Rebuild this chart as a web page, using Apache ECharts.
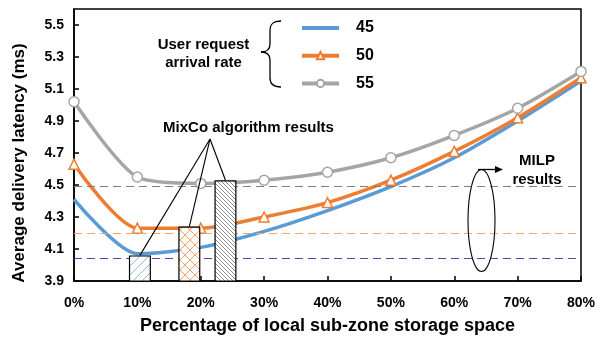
<!DOCTYPE html>
<html>
<head>
<meta charset="utf-8">
<script src="https://cdn.jsdelivr.net/npm/echarts@6/dist/echarts.min.js"></script>
<style>
  html, body { margin: 0; padding: 0; background: #fff; }
  #chart { width: 614px; height: 340px; }
</style>
</head>
<body>
<div id="chart"></div>
<script>
// Storage share on the x axis (percent) and its tick labels
const storagePct = [0, 10, 20, 30, 40, 50, 60, 70, 80];
const xTickLabels = ['0%', '10%', '20%', '30%', '40%', '50%', '60%', '70%', '80%'];
const yTickValues = [3.9, 4.1, 4.3, 4.5, 4.7, 4.9, 5.1, 5.3, 5.5];

// Average delivery latency (ms) for each user request arrival rate
const rate45 = [4.41, 4.07, 4.11, 4.21, 4.34, 4.49, 4.67, 4.90, 5.15];
const rate50 = [4.63, 4.23, 4.23, 4.30, 4.39, 4.53, 4.71, 4.92, 5.17];
const rate55 = [5.02, 4.55, 4.51, 4.53, 4.58, 4.67, 4.81, 4.98, 5.21];

// MixCo algorithm results (bar position in percent, latency)
const mixcoPos = [10.4, 18.2, 23.9];
const mixcoVal = [4.06, 4.24, 4.53];

// MILP results (dashed reference levels)
const milpVal = [4.04, 4.20, 4.49];

const FONT = "'Liberation Sans', Arial, sans-serif";
const BLUE = '#5B9BD5', ORANGE = '#ED7D31', GRAY = '#A5A5A5';

function hatch(color, size, dirs, lw) {
  const c = document.createElement('canvas');
  c.width = c.height = size;
  const g = c.getContext('2d');
  g.fillStyle = '#fff';
  g.fillRect(0, 0, size, size);
  g.strokeStyle = color;
  g.lineWidth = lw;
  dirs.forEach(d => {
    for (let k = -1; k <= 1; k++) {
      const x0 = k * size;
      g.beginPath();
      if (d === '/') { g.moveTo(x0, size); g.lineTo(x0 + size, 0); }
      else { g.moveTo(x0, 0); g.lineTo(x0 + size, size); }
      g.stroke();
    }
  });
  return { image: c, repeat: 'repeat' };
}

const barFills = [
  hatch('#8DBBE4', 9, ['/'], 1),
  hatch('#F4A470', 10, ['/', '\\'], 1),
  hatch('#8C8C8C', 4, ['\\'], 1)
];

const pair = arr => arr.map((v, i) => [storagePct[i], v]);

const chart = echarts.init(document.getElementById('chart'), null, { renderer: 'canvas' });

const option = {
  animation: false,
  backgroundColor: '#fff',
  textStyle: { fontFamily: FONT },
  grid: {
    left: 74, right: 33, top: 9, bottom: 56,
    show: true, borderColor: '#000', borderWidth: 1.5
  },
  legend: {
    orient: 'vertical',
    left: 295, top: 15,
    itemWidth: 37, itemHeight: 9, itemGap: 11.7,
    lineStyle: { width: 4 },
    data: [
      { name: '45', itemStyle: { opacity: 0 } },
      { name: '50' },
      { name: '55' }
    ],
    textStyle: {
      fontFamily: FONT, fontWeight: 'bold', fontSize: 16, lineHeight: 16,
      color: '#000', padding: [0, 0, 0, 12]
    }
  },
  xAxis: {
    type: 'value',
    min: 0, max: 80, interval: 10,
    name: 'Percentage of local sub-zone storage space',
    nameLocation: 'middle', nameGap: 36,
    nameTextStyle: { fontFamily: FONT, fontWeight: 'bold', fontSize: 18, color: '#000' },
    axisLine: { lineStyle: { color: '#000', width: 1.5 } },
    axisTick: { inside: true, length: 5, lineStyle: { color: '#000', width: 1.5 } },
    splitLine: { show: false },
    axisLabel: {
      margin: 15, color: '#000', fontWeight: 'bold', fontSize: 14, fontFamily: FONT,
      formatter: v => xTickLabels[Math.round(v / 10)]
    }
  },
  yAxis: {
    type: 'value',
    min: 3.9, max: 5.6,
    axisLine: { show: true, lineStyle: { color: '#000', width: 1.5 } },
    axisTick: {
      show: true, inside: true, length: 5, customValues: yTickValues,
      lineStyle: { color: '#000', width: 1.5 }
    },
    splitLine: { show: false },
    axisLabel: {
      customValues: yTickValues,
      margin: 10, color: '#000', fontWeight: 'bold', fontSize: 14, fontFamily: FONT,
      formatter: v => v.toFixed(1)
    }
  },
  series: [
    {
      name: '45', type: 'line', data: pair(rate45), smooth: 0.25,
      symbol: 'none', z: 3,
      lineStyle: { color: BLUE, width: 3.5 }, itemStyle: { color: BLUE },
      markLine: {
        silent: true, symbol: 'none', label: { show: false },
        data: milpVal.map((v, i) => ({
          yAxis: v,
          lineStyle: { color: ['#6A3DA8', '#F7A66B', '#7F7F7F'][i], type: [8, 5], width: 1.2 }
        }))
      }
    },
    {
      name: '50', type: 'line', data: pair(rate50), smooth: 0.25,
      symbol: 'triangle', symbolSize: 10, z: 4,
      lineStyle: { color: ORANGE, width: 3.5 },
      itemStyle: { color: '#fff', borderColor: ORANGE, borderWidth: 1.5 }
    },
    {
      name: '55', type: 'line', data: pair(rate55), smooth: 0.25,
      symbol: 'circle', symbolSize: 10, z: 5,
      lineStyle: { color: GRAY, width: 3.5 },
      itemStyle: { color: '#fff', borderColor: GRAY, borderWidth: 1.5 }
    },
    {
      name: 'MixCo', type: 'bar', barWidth: 22, z: 6,
      data: mixcoPos.map((p, i) => ({
        value: [p, mixcoVal[i]],
        itemStyle: { color: barFills[i], borderColor: '#000', borderWidth: 1.2 }
      }))
    }
  ]
};

chart.setOption(option);

// Annotations placed from the bar tops
const tops = mixcoPos.map((p, i) => chart.convertToPixel({ gridIndex: 0 }, [p, mixcoVal[i]]));
const apex = [210, 139];

const ink = { stroke: '#000', lineWidth: 1.3, fill: null };
const brace = [
  { x1: 281, y1: 21, cpx1: 273, cpy1: 21, cpx2: 270, cpy2: 24, x2: 270, y2: 31 },
  { x1: 270, y1: 44, cpx1: 270, cpy1: 49, cpx2: 267, cpy2: 52, x2: 261, y2: 52 },
  { x1: 261, y1: 52, cpx1: 267, cpy1: 52, cpx2: 270, cpy2: 55, x2: 270, y2: 60 },
  { x1: 270, y1: 78, cpx1: 270, cpy1: 84, cpx2: 273, cpy2: 87, x2: 281, y2: 87 }
].map(s => ({ type: 'bezierCurve', shape: s, style: ink }));

chart.setOption({
  graphic: [
    {
      type: 'text', x: 19, y: 163, rotation: Math.PI / 2,
      style: {
        text: 'Average delivery latency (ms)', fontFamily: FONT, fontWeight: 'bold',
        fontSize: 17, fill: '#000', align: 'center', verticalAlign: 'middle'
      }
    },
    {
      type: 'text', x: 203.5, y: 54,
      style: {
        text: 'User request\narrival rate', fontFamily: FONT, fontWeight: 'bold', fontSize: 15,
        lineHeight: 18, fill: '#000', align: 'center', verticalAlign: 'middle'
      }
    },
    ...brace,
    { type: 'line', shape: { x1: 270, y1: 31, x2: 270, y2: 44 }, style: ink },
    { type: 'line', shape: { x1: 270, y1: 60, x2: 270, y2: 78 }, style: ink },
    {
      type: 'text', x: 248.5, y: 128,
      style: {
        text: 'MixCo algorithm results', fontFamily: FONT, fontWeight: 'bold', fontSize: 15,
        fill: '#000', align: 'center', verticalAlign: 'middle'
      }
    },
    ...tops.map(t => ({
      type: 'line',
      shape: { x1: apex[0], y1: apex[1], x2: t[0], y2: t[1] },
      style: { stroke: '#000', lineWidth: 1.1 }, z: 10
    })),
    {
      type: 'ellipse',
      shape: { cx: 481.5, cy: 220.5, rx: 13.5, ry: 51 },
      style: { fill: null, stroke: '#000', lineWidth: 1.1 }, z: 10
    },
    {
      type: 'line',
      shape: { x1: 478, y1: 169.5, x2: 497, y2: 169.5 },
      style: { stroke: '#000', lineWidth: 1.3 }, z: 10
    },
    {
      type: 'polygon',
      shape: { points: [[503, 169.5], [495, 166], [495, 173]] },
      style: { fill: '#000' }, z: 10
    },
    {
      type: 'text', x: 537, y: 170,
      style: {
        text: 'MILP\nresults', fontFamily: FONT, fontWeight: 'bold', fontSize: 15,
        lineHeight: 19, fill: '#000', align: 'center', verticalAlign: 'middle'
      }
    }
  ]
});
</script>
</body>
</html>
